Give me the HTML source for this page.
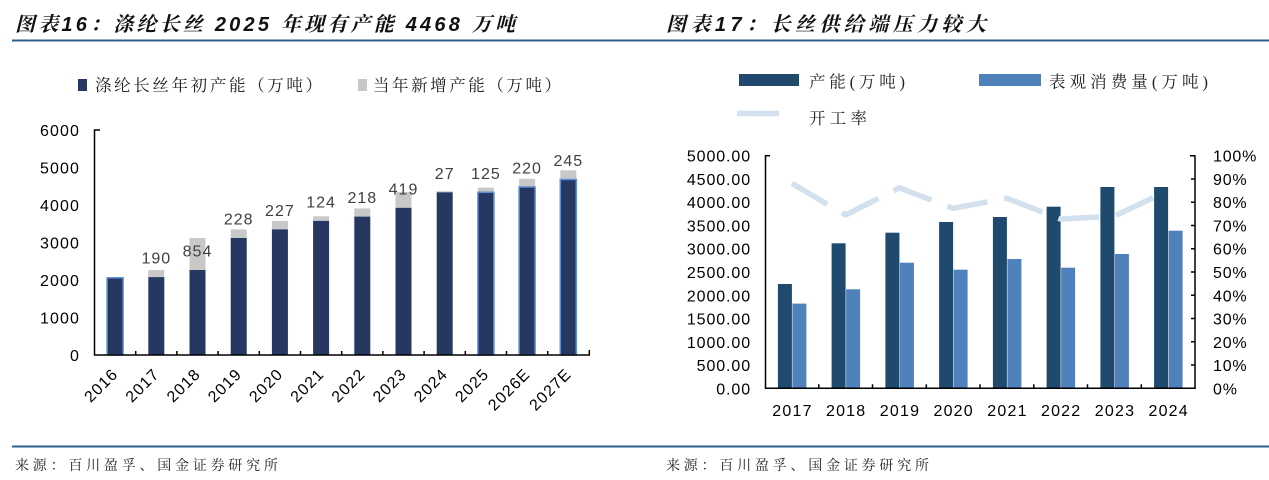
<!DOCTYPE html>
<html><head><meta charset="utf-8"><style>
html,body{margin:0;padding:0;background:#fff;}
svg{display:block;}
.num{font-family:"Liberation Sans",Arial,sans-serif;font-size:16px;fill:#000;letter-spacing:1.1px;}
.lbl{font-family:"Liberation Sans",Arial,sans-serif;font-size:16px;fill:#404040;letter-spacing:1px;}
.cjk{font-family:"Liberation Serif","Noto Serif CJK SC",serif;font-size:16.5px;fill:#222;}
.ttl{font-family:"Liberation Sans","Noto Serif CJK SC",serif;font-size:20px;font-weight:700;font-style:italic;fill:#111;}
.src{font-family:"Liberation Serif","Noto Serif CJK SC",serif;font-size:14px;fill:#222;}
</style></head><body>
<svg width="1269" height="480" viewBox="0 0 1269 480" xmlns="http://www.w3.org/2000/svg">
<rect width="1269" height="480" fill="#fff"/>
<!-- titles -->
<text class="ttl" x="15" y="31" textLength="500" lengthAdjust="spacing">图表16：涤纶长丝 2025 年现有产能 4468 万吨</text>
<text class="ttl" x="666" y="31" textLength="320" lengthAdjust="spacing">图表17：长丝供给端压力较大</text>
<line x1="12" y1="40.5" x2="1269" y2="40.5" stroke="#2e5f8a" stroke-width="2"/>
<line x1="12" y1="446.5" x2="1269" y2="446.5" stroke="#2e5f8a" stroke-width="2"/>
<text class="src" x="15" y="470" textLength="263" lengthAdjust="spacing">来源：百川盈孚、国金证券研究所</text>
<text class="src" x="666" y="470" textLength="263" lengthAdjust="spacing">来源：百川盈孚、国金证券研究所</text>

<!-- LEFT legend -->
<rect x="78" y="79" width="9" height="12" fill="#263762"/>
<text class="cjk" x="95" y="91" textLength="227" lengthAdjust="spacing">涤纶长丝年初产能（万吨）</text>
<rect x="358" y="79" width="9" height="12" fill="#c8c8c8"/>
<text class="cjk" x="373" y="91" textLength="188" lengthAdjust="spacing">当年新增产能（万吨）</text>

<!-- LEFT y labels -->
<g class="num" text-anchor="end">
<text x="80" y="361">0</text>
<text x="80" y="323.5">1000</text>
<text x="80" y="286">2000</text>
<text x="80" y="248.5">3000</text>
<text x="80" y="211">4000</text>
<text x="80" y="173.5">5000</text>
<text x="80" y="136">6000</text>
</g>

<!-- LEFT bars -->
<g fill="#c8c8c8">
<rect x="148.3" y="270.0" width="16" height="7.1"/>
<rect x="189.5" y="238.0" width="16" height="32"/>
<rect x="230.7" y="229.4" width="16" height="8.6"/>
<rect x="271.9" y="220.9" width="16" height="8.5"/>
<rect x="313.1" y="216.3" width="16" height="4.6"/>
<rect x="354.3" y="208.4" width="16" height="8.2"/>
<rect x="395.5" y="192.1" width="16" height="15.7"/>
<rect x="436.7" y="191.2" width="16" height="1.1"/>
<rect x="477.9" y="187.6" width="16" height="4.7"/>
<rect x="519.1" y="178.8" width="16" height="8.2"/>
<rect x="560.3" y="170.3" width="16" height="9.2"/>
</g>
<g fill="#263762">
<rect x="107.1" y="277.8" width="16" height="77.2" stroke="#5b8ed4" stroke-width="1.5"/>
<rect x="148.3" y="277.1" width="16" height="77.9"/>
<rect x="189.5" y="270.0" width="16" height="85"/>
<rect x="230.7" y="238.0" width="16" height="117"/>
<rect x="271.9" y="229.4" width="16" height="125.6"/>
<rect x="313.1" y="220.9" width="16" height="134.1"/>
<rect x="354.3" y="216.6" width="16" height="138.4"/>
<rect x="395.5" y="207.8" width="16" height="147.2"/>
<rect x="436.7" y="192.3" width="16" height="162.7"/>
<rect x="477.9" y="192.3" width="16" height="162.7" stroke="#5b8ed4" stroke-width="1.5"/>
<rect x="519.1" y="187.0" width="16" height="168" stroke="#5b8ed4" stroke-width="1.5"/>
<rect x="560.3" y="179.5" width="16" height="175.5" stroke="#5b8ed4" stroke-width="1.5"/>
</g>
<!-- LEFT data labels -->
<g class="lbl" text-anchor="middle">
<text x="156.3" y="263.6">190</text>
<text x="197.5" y="256.5">854</text>
<text x="238.7" y="224.5">228</text>
<text x="279.9" y="215.9">227</text>
<text x="321.1" y="207.4">124</text>
<text x="362.3" y="203.1">218</text>
<text x="403.5" y="194.3">419</text>
<text x="444.7" y="178.8">27</text>
<text x="485.9" y="178.8">125</text>
<text x="527.1" y="173.5">220</text>
<text x="568.3" y="166">245</text>
</g>
<!-- LEFT axes -->
<g stroke="#000" stroke-width="1.5" fill="none">
<line x1="94.5" y1="129.5" x2="94.5" y2="355.5"/>
<line x1="94" y1="130" x2="100" y2="130"/>
<line x1="94" y1="355" x2="590" y2="355"/>
<path d="M135.7 355V351M176.9 355V351M218.1 355V351M259.3 355V351M300.5 355V351M341.7 355V351M382.9 355V351M424.1 355V351M465.3 355V351M506.5 355V351M547.7 355V351M589.3 355V350"/>
</g>
<!-- LEFT x labels -->
<g class="num" text-anchor="end">
<text transform="translate(119,375) rotate(-45)">2016</text>
<text transform="translate(160.3,375) rotate(-45)">2017</text>
<text transform="translate(201.5,375) rotate(-45)">2018</text>
<text transform="translate(242.7,375) rotate(-45)">2019</text>
<text transform="translate(283.9,375) rotate(-45)">2020</text>
<text transform="translate(325.1,375) rotate(-45)">2021</text>
<text transform="translate(366.3,375) rotate(-45)">2022</text>
<text transform="translate(407.5,375) rotate(-45)">2023</text>
<text transform="translate(448.7,375) rotate(-45)">2024</text>
<text transform="translate(489.9,375) rotate(-45)">2025</text>
<text transform="translate(531.1,375) rotate(-45)">2026E</text>
<text transform="translate(572.3,375) rotate(-45)">2027E</text>
</g>

<!-- RIGHT legend -->
<rect x="739" y="74" width="60" height="12" fill="#1f4a6e"/>
<text class="cjk" x="809" y="87.5" textLength="96" lengthAdjust="spacing">产能(万吨)</text>
<rect x="979" y="74" width="62" height="12" fill="#4f81bd"/>
<text class="cjk" x="1049" y="87.5" textLength="159" lengthAdjust="spacing">表观消费量(万吨)</text>
<line x1="737" y1="113.5" x2="779" y2="113.5" stroke="#d3e0ee" stroke-width="5.5"/>
<text class="cjk" x="809" y="124" textLength="58" lengthAdjust="spacing">开工率</text>

<!-- RIGHT y labels left -->
<g class="num" text-anchor="end" style="letter-spacing:0.9px">
<text x="751" y="394.3">0.00</text>
<text x="751" y="371">500.00</text>
<text x="751" y="347.8">1000.00</text>
<text x="751" y="324.5">1500.00</text>
<text x="751" y="301.3">2000.00</text>
<text x="751" y="278">2500.00</text>
<text x="751" y="254.7">3000.00</text>
<text x="751" y="231.5">3500.00</text>
<text x="751" y="208.2">4000.00</text>
<text x="751" y="185">4500.00</text>
<text x="751" y="161.7">5000.00</text>
</g>
<!-- RIGHT y labels right -->
<g class="num" style="letter-spacing:0.8px">
<text x="1213" y="394.3">0%</text>
<text x="1213" y="371">10%</text>
<text x="1213" y="347.8">20%</text>
<text x="1213" y="324.5">30%</text>
<text x="1213" y="301.3">40%</text>
<text x="1213" y="278">50%</text>
<text x="1213" y="254.7">60%</text>
<text x="1213" y="231.5">70%</text>
<text x="1213" y="208.2">80%</text>
<text x="1213" y="185">90%</text>
<text x="1213" y="161.7">100%</text>
</g>

<!-- RIGHT bars -->
<g fill="#1f4a6e">
<rect x="777.9" y="284.0" width="14" height="104.3"/>
<rect x="831.6" y="243.3" width="14" height="145"/>
<rect x="885.4" y="232.7" width="14" height="155.6"/>
<rect x="939.1" y="222.0" width="14" height="166.3"/>
<rect x="992.9" y="217.0" width="14" height="171.3"/>
<rect x="1046.6" y="206.7" width="14" height="181.6"/>
<rect x="1100.4" y="187.0" width="14" height="201.3"/>
<rect x="1154.1" y="187.0" width="14" height="201.3"/>
</g>
<g fill="#4f81bd">
<rect x="792.4" y="303.6" width="14" height="84.7"/>
<rect x="846.1" y="289.3" width="14" height="99"/>
<rect x="899.9" y="262.7" width="14" height="125.6"/>
<rect x="953.6" y="269.7" width="14" height="118.6"/>
<rect x="1007.4" y="259.0" width="14" height="129.3"/>
<rect x="1061.1" y="267.7" width="14" height="120.6"/>
<rect x="1114.9" y="254.0" width="14" height="134.3"/>
<rect x="1168.6" y="230.7" width="14" height="157.6"/>
</g>
<!-- RIGHT line -->
<polyline points="791.9,183.4 845.6,215.0 899.4,187.8 953.1,208.3 1006.9,198.3 1060.6,219.0 1114.4,216.2 1168.1,190.6" fill="none" stroke="#d3e0ee" stroke-width="5.5" stroke-dasharray="41 17" stroke-linejoin="round"/>

<!-- RIGHT axes -->
<g stroke="#000" stroke-width="1.5" fill="none">
<line x1="765.5" y1="155.2" x2="765.5" y2="388.8"/>
<line x1="765" y1="155.7" x2="770" y2="155.7"/>
<line x1="1195" y1="155.2" x2="1195" y2="388.8"/>
<line x1="765" y1="388.3" x2="1195.7" y2="388.3"/>
<path d="M818.8 388.3V384.3M872.5 388.3V384.3M926.3 388.3V384.3M980 388.3V384.3M1033.8 388.3V384.3M1087.5 388.3V384.3M1141.3 388.3V384.3"/>
<path d="M1191 365H1195M1191 341.8H1195M1191 318.5H1195M1191 295.3H1195M1191 272H1195M1191 248.7H1195M1191 225.5H1195M1191 202.2H1195M1191 179H1195M1190 155.7H1195"/>
</g>
<!-- RIGHT x labels -->
<g class="num" text-anchor="middle" style="letter-spacing:1.2px">
<text x="792.5" y="416">2017</text>
<text x="846.2" y="416">2018</text>
<text x="900" y="416">2019</text>
<text x="953.7" y="416">2020</text>
<text x="1007.5" y="416">2021</text>
<text x="1061.2" y="416">2022</text>
<text x="1115" y="416">2023</text>
<text x="1168.7" y="416">2024</text>
</g>
</svg>
</body></html>
